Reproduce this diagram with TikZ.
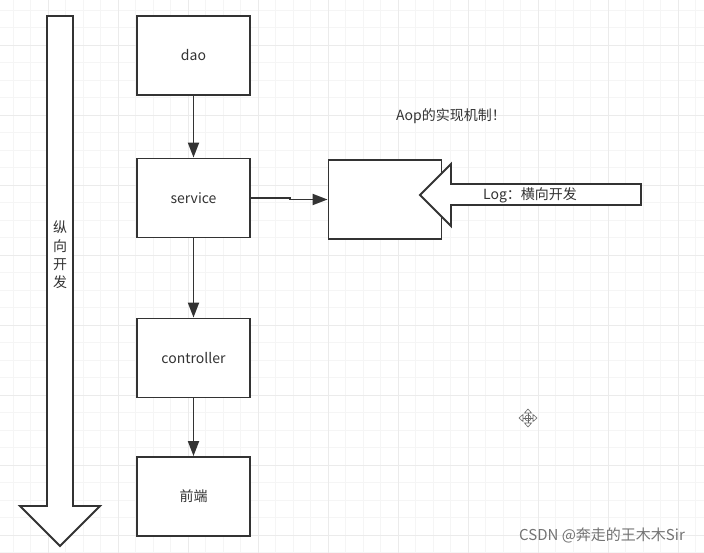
\documentclass[tikz,border=0pt]{standalone}
\usepackage{fontspec}
\setmainfont{Noto Sans CJK SC}
\usetikzlibrary{arrows.meta,positioning,calc}
\definecolor{ink}{HTML}{333333}

\begin{document}
\begin{tikzpicture}[x=1pt,y=-1pt,
  box/.style={draw=ink,line width=1.9pt,fill=white,minimum width=113pt,minimum height=79pt,inner sep=0pt,font=\fontsize{14}{16}\selectfont,text=ink},
  flow/.style={draw=ink,line width=1.9pt,-{Triangle[length=15pt,width=11pt]}},
  bigarrow/.style={draw=ink,line width=1.9pt,fill=white,line join=miter},
  lbl/.style={font=\fontsize{14}{16}\selectfont,text=ink}]
  \useasboundingbox (0,0) rectangle (704,553);
  \fill[white] (0,0) rectangle (704,553);

  % background grid
  \foreach \gx in {13,30.5,...,704} \draw[black!4,line width=0.6pt] (\gx,0) -- (\gx,553);
  \foreach \gy in {10,27.5,...,553} \draw[black!4,line width=0.6pt] (0,\gy) -- (704,\gy);
  \foreach \gx in {48,118,...,704} \draw[black!8,line width=0.7pt] (\gx,0) -- (\gx,553);
  \foreach \gy in {45,115,...,553} \draw[black!8,line width=0.7pt] (0,\gy) -- (704,\gy);

  % vertical development arrow
  \draw[bigarrow] (47,16) -- (73,16) -- (73,506) -- (100,506) -- (60,546)
    -- (20,506) -- (47,506) -- cycle;
  \node[lbl,align=center,font=\fontsize{14}{18.3}\selectfont] (vdev) at (60,255) {纵\\向\\开\\发};

  % layers
  \node[box] (dao)        at (193.5,55.5)  {dao};
  \node[box] (service)    at (193.5,198)   {service};
  \node[box] (controller) at (193.5,358)   {controller};
  \node[box] (front)      at (193.5,496.5) {前端};
  \node[box] (aop)        at (385,199.5)   {};

  \draw[flow] (dao) -- (service);
  \draw[flow] (service) -- (controller);
  \draw[flow] (controller) -- (front);
  \coordinate (bend) at ($(service.east)+(39,0)$);
  \draw[flow] (service.east) -- (bend) |- (aop.west);

  % horizontal development arrow
  \draw[bigarrow] (641,184) -- (451,184) -- (451,164) -- (420,195)
    -- (451,226) -- (451,205) -- (641,205) -- cycle;
  \node[lbl] (hdev) at (530,195) {Log：横向开发};

  \node[lbl] (title) at (451,116) {Aop的实现机制！};

  % cursor
  \begin{scope}[shift={(528,418)},draw=black!60,line width=0.6pt]
    \draw (-5,0) -- (5,0) (0,-5) -- (0,5);
    \draw[fill=white] (-9,0) -- (-5,-3.5) -- (-5,3.5) -- cycle;
    \draw[fill=white] (9,0) -- (5,-3.5) -- (5,3.5) -- cycle;
    \draw[fill=white] (0,-9) -- (-3.5,-5) -- (3.5,-5) -- cycle;
    \draw[fill=white] (0,9) -- (-3.5,5) -- (3.5,5) -- cycle;
    \draw (0,0) circle (3);
  \end{scope}

  \node[font=\fontsize{15}{17}\selectfont,text=black!55] (mark) at (602,535) {CSDN @奔走的王木木Sir};
\end{tikzpicture}
\end{document}
